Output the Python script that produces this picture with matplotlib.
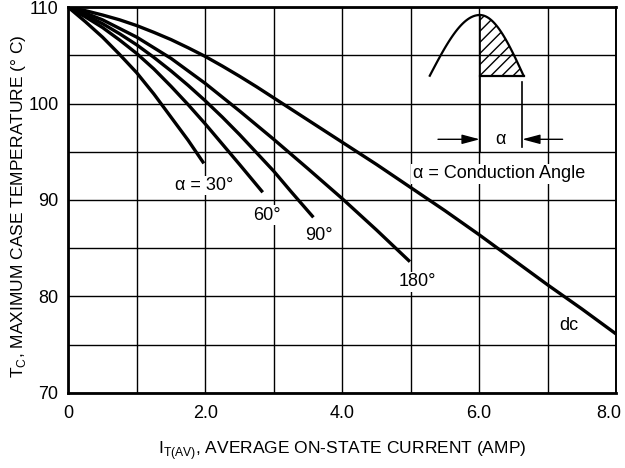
"""Case temperature derating curves for a thyristor"""

import numpy as np
import matplotlib
matplotlib.use("Agg")
import matplotlib.pyplot as plt
import matplotlib.transforms as mtransforms

plt.rcParams["font.family"] = ["Liberation Sans", "DejaVu Sans"]

# average on-state current (A) vs max case temperature (deg C)
i_30 = [0, 0.25, 0.5, 0.75, 1.0, 1.25, 1.5, 1.75, 1.98]
t_30 = [110, 108.5, 106.9, 105.1, 103.2, 101.0, 98.6, 96.2, 93.8]

i_60 = [0, 0.25, 0.5, 0.75, 1.0, 1.25, 1.5, 1.75, 2.0, 2.25, 2.5, 2.84]
t_60 = [110, 109.0, 107.9, 106.6, 105.2, 103.6, 101.8, 99.9, 97.9, 95.8, 93.7, 90.8]

i_90 = [0, 0.25, 0.5, 0.75, 1.0, 1.25, 1.5, 1.75, 2.0, 2.25, 2.5, 2.75, 3.0, 3.25, 3.58]
t_90 = [110, 109.2, 108.3, 107.25, 106.1, 104.8, 103.4, 101.9, 100.3, 98.6, 96.8, 94.9,
        93.0, 90.9, 88.2]

i_180 = [0, 0.25, 0.5, 0.75, 1.0, 1.25, 1.5, 1.75, 2.0, 2.5, 3.0, 3.5, 4.0, 4.5, 4.99]
t_180 = [110, 109.4, 108.7, 107.8, 106.9, 105.8, 104.7, 103.4, 102.1, 99.25, 96.3, 93.25,
         90.15, 86.9, 83.6]

i_dc = [0, 0.25, 0.5, 0.75, 1.0, 1.25, 1.5, 1.75, 2.0, 2.25, 2.5, 2.75, 3.0, 3.5, 4.0,
        4.5, 5.0, 5.5, 6.0, 6.5, 7.0, 7.5, 8.0]
t_dc = [110, 109.65, 109.2, 108.7, 108.1, 107.4, 106.65, 105.8, 104.9, 103.9, 102.85,
        101.75, 100.6, 98.3, 96.0, 93.7, 91.3, 88.9, 86.4, 83.8, 81.2, 78.7, 76.1]

curves = [(i_30, t_30), (i_60, t_60), (i_90, t_90), (i_180, t_180), (i_dc, t_dc)]

# curve labels: text, x, y
labels = [
    ("α = 30°", 1.98, 91.5),
    ("60°", 2.9, 88.4),
    ("90°", 3.66, 86.3),
    ("180°", 5.1, 81.5),
    ("dc", 7.31, 77.0),
]

x_ticks = [0, 2, 4, 6, 8]
x_ticklabels = ["0", "2.0", "4.0", "6.0", "8.0"]
y_ticks = [70, 80, 90, 100, 110]

fig = plt.figure(figsize=(6.25, 4.68), dpi=100)
ax = fig.add_axes([0.1093, 0.1609, 0.8763, 0.8235])

for cur_i, cur_t in curves:
    ax.plot(cur_i, cur_t, color="black", lw=2.4, solid_capstyle="butt",
            solid_joinstyle="round", zorder=3)

for txt, x, y in labels:
    ax.text(x, y, txt, ha="center", va="center", fontsize=13, zorder=4,
            bbox=dict(facecolor="white", edgecolor="none", pad=1))

# inset sketch of the conduction angle
left = np.linspace(0, 1, 30)
right = np.linspace(0, 1, 30)
base, amp = 102.9, 6.3
x_left = 5.28 + 0.73 * left
y_left = base + amp * np.sin(left * np.pi / 2)
x_right = 6.01 + 0.64 * right
y_right = base + amp * np.cos(right * np.pi / 2)
ax.plot(x_left, y_left, color="black", lw=1.6, zorder=3)
ax.plot(x_right, y_right, color="black", lw=1.6, zorder=3)
ax.fill_between(x_right, base, y_right, facecolor="none", edgecolor="black",
                hatch="///", lw=0, zorder=3)
ax.plot([6.01, 6.65], [base, base], color="black", lw=1.6, zorder=3)
ax.plot([6.01, 6.01], [95.0, base + amp], color="black", lw=1.2, zorder=3)
ax.plot([6.63, 6.63], [95.5, 102.2], color="black", lw=1.2, zorder=3)
arrow = dict(arrowstyle="-|>,head_length=0.6,head_width=0.16", color="black", lw=1.0,
             mutation_scale=18, shrinkA=0, shrinkB=0)
ax.annotate("", xy=(6.01, 96.3), xytext=(5.40, 96.3), arrowprops=arrow, zorder=3)
ax.annotate("", xy=(6.63, 96.3), xytext=(7.22, 96.3), arrowprops=arrow, zorder=3)
ax.text(6.31, 96.3, "α", ha="center", va="center", fontsize=13, zorder=4)
ax.text(5.03, 92.7, "α = Conduction Angle", ha="left", va="center", fontsize=13,
        zorder=4, bbox=dict(facecolor="white", edgecolor="none", pad=1))

ax.set_xlim(0, 8)
ax.set_ylim(70, 110)
ax.set_xticks(x_ticks)
ax.set_xticklabels(x_ticklabels)
ax.set_yticks(y_ticks)
ax.set_xticks(np.arange(0, 9, 1), minor=True)
ax.set_yticks(np.arange(70, 111, 5), minor=True)
ax.grid(which="both", color="black", lw=1.0, zorder=1)
ax.set_axisbelow(True)
ax.tick_params(which="both", length=0, labelsize=13)
ax.tick_params(axis="x", pad=9)
ax.tick_params(axis="y", pad=7)
for side in ["left", "bottom", "top"]:
    ax.spines[side].set_linewidth(2.0)
ax.spines["right"].set_linewidth(1.4)

# last x tick label sits against the right edge
last = ax.get_xticklabels()[-1]
last.set_transform(last.get_transform() + mtransforms.ScaledTranslation(-5 / 72, 0, fig.dpi_scale_trans))

ax.set_xlabel("I$_{\\mathregular{T(AV)}}$, AVERAGE ON-STATE CURRENT (AMP)", fontsize=12.5, labelpad=12)
ax.set_ylabel("T$_{\\mathregular{C}}$, MAXIMUM CASE TEMPERATURE (° C)", fontsize=12.5)
ax.yaxis.set_label_coords(-0.074, 0.485)

fig.savefig("out.png", dpi=100)
